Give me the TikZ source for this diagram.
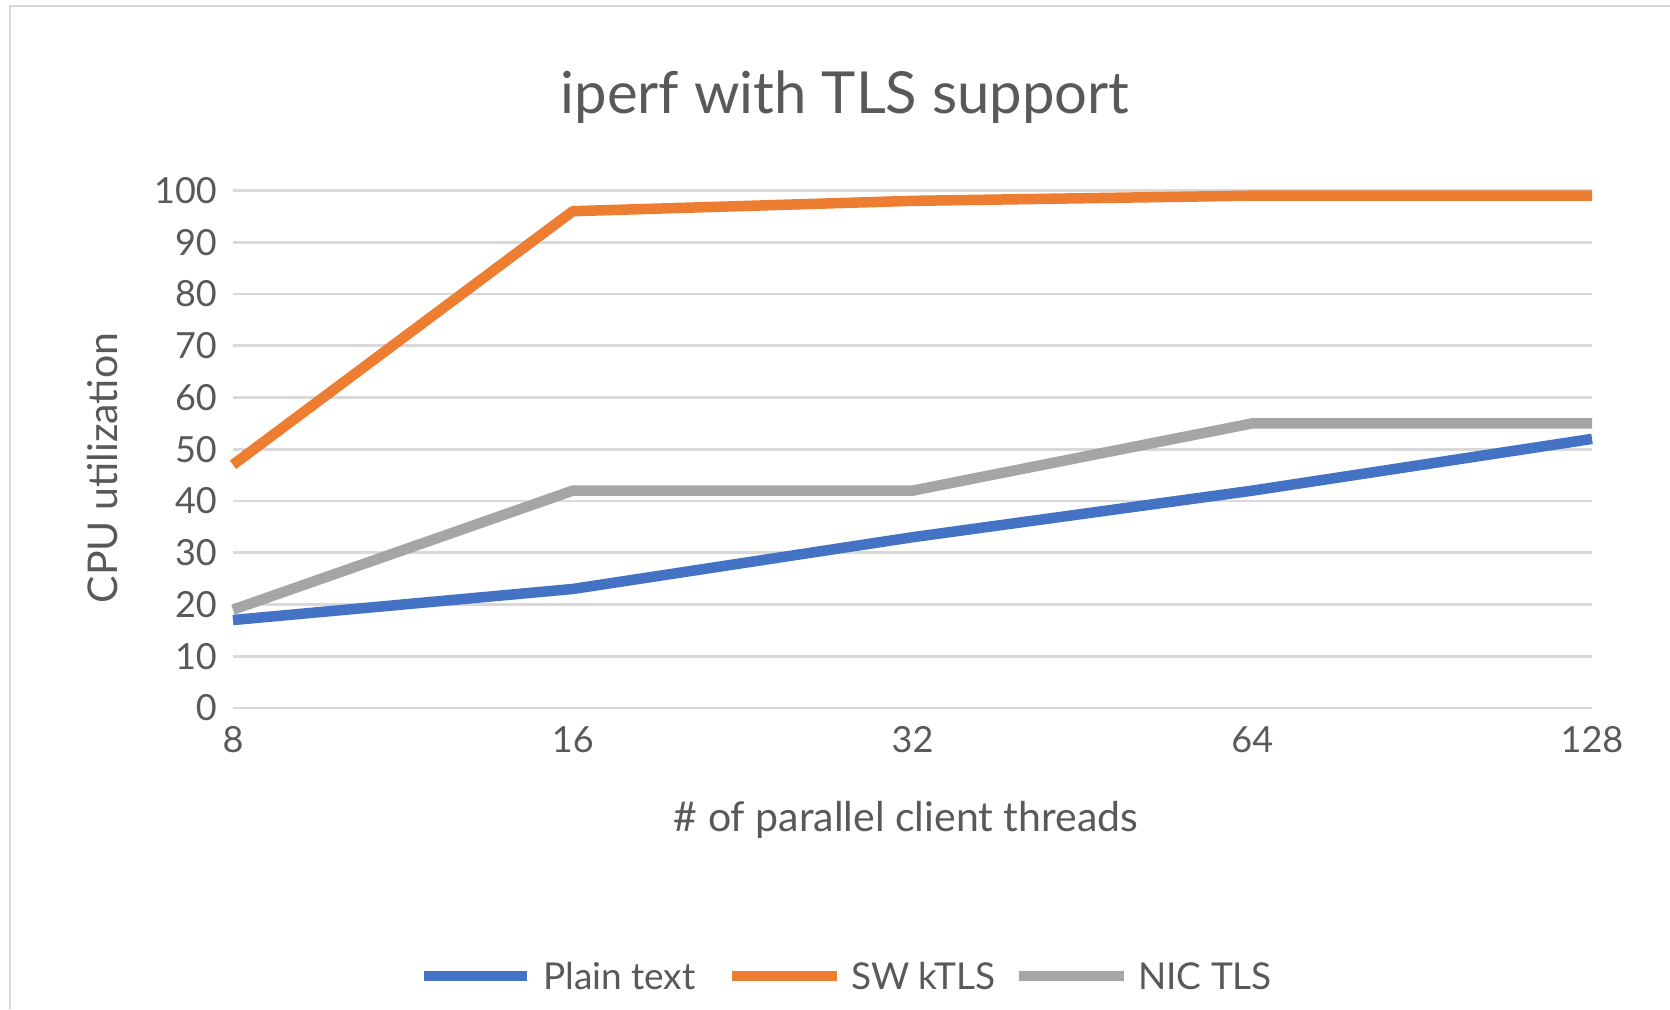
\documentclass[tikz,border=0pt]{standalone}
\usepackage{fontspec}
\setmainfont{Lato}
\definecolor{txt}{HTML}{595959}
\definecolor{grid}{HTML}{D9D9D9}
\definecolor{sblue}{HTML}{4472C4}
\definecolor{sorange}{HTML}{ED7D31}
\definecolor{sgray}{HTML}{A5A5A5}
\tikzset{
  gridline/.style={draw=grid, line width=2.6pt},
  series/.style={line width=10.5pt, line join=round, line cap=butt},
  ticklbl/.style={text=txt, inner sep=0pt, font=\fontsize{36}{40}\selectfont},
  axtitle/.style={text=txt, inner sep=0pt, font=\fontsize{41}{45}\selectfont},
  legtext/.style={text=txt, inner sep=0pt, anchor=west, font=\fontsize{37}{41}\selectfont},
}
\begin{document}
\begin{tikzpicture}[x=1pt, y=-1pt]
  \useasboundingbox (0,0) rectangle (1670,1009);
  \fill[white] (0,0) rectangle (1670,1009);
  % chart frame (left and top edges)
  \draw[grid, line width=2.7pt] (10,1009) -- (10,6) -- (1670,6);

  % title
  \node[text=txt, inner sep=0pt, anchor=base, font=\fontsize{58}{62}\selectfont] (title) at (845,113) {iperf with TLS support};

  % horizontal grid and value labels
  \foreach \v in {0,10,...,100} {
    \pgfmathsetmacro{\yy}{708-5.175*\v}
    \draw[gridline] (233,\yy) -- (1592,\yy);
    \node[ticklbl, anchor=east] (y\v) at (217,\yy) {\v};
  }

  % category positions
  \foreach \c/\lab [count=\i from 0] in {c8/8,c16/16,c32/32,c64/64,c128/128} {
    \pgfmathsetmacro{\xx}{233+339.75*\i}
    \node[ticklbl] (\c) at (\xx,740) {\lab};
  }

  % axis titles
  \node[axtitle, rotate=90] (ytitle) at (103,468) {CPU utilization};
  \node[axtitle] (xtitle) at (906,820) {\# of parallel client threads};

  % data points
  \foreach \s/\a/\b/\c/\d/\e in {p/17/23/33/42/52, k/47/96/98/99/99, n/19/42/42/55/55} {
    \coordinate (\s1) at (233,{708-5.175*\a});
    \coordinate (\s2) at (572.75,{708-5.175*\b});
    \coordinate (\s3) at (912.5,{708-5.175*\c});
    \coordinate (\s4) at (1252.25,{708-5.175*\d});
    \coordinate (\s5) at (1592,{708-5.175*\e});
  }
  \draw[series, sgray] (n1) -- (n2) -- (n3) -- (n4) -- (n5);
  \draw[series, sblue] (p1) -- (p2) -- (p3) -- (p4) -- (p5);
  \draw[series, sorange] (k1) -- (k2) -- (k3) -- (k4) -- (k5);

  % legend
  \coordinate (lb1) at (424,976); \coordinate (lb2) at (527,976);
  \coordinate (lo1) at (732,976); \coordinate (lo2) at (837,976);
  \coordinate (lg1) at (1019,976); \coordinate (lg2) at (1124,976);
  \draw[series, sblue] (lb1) -- (lb2);
  \draw[series, sorange] (lo1) -- (lo2);
  \draw[series, sgray] (lg1) -- (lg2);
  \node[legtext] (lbt) at (543,976) {Plain text};
  \node[legtext] (lot) at (851,976) {SW kTLS};
  \node[legtext] (lgt) at (1138,976) {NIC TLS};
\end{tikzpicture}
\end{document}
